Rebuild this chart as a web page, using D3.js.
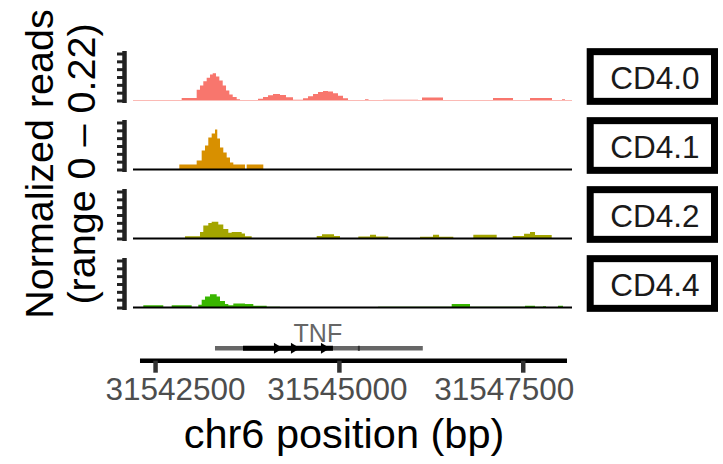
<!DOCTYPE html>
<html><head><meta charset="utf-8">
<script src="https://cdn.jsdelivr.net/npm/d3@7"></script>
<style>
html,body{margin:0;padding:0;background:#fff;}
text{font-family:"Liberation Sans",Arial,Helvetica,sans-serif;}
</style></head>
<body><svg id="chart" width="723" height="464"></svg>
<script>
// ---------- data ----------
const region = [31542200, 31548170];
const groups = ["CD4.0", "CD4.1", "CD4.2", "CD4.4"];
const groupColors = ["#F8766D", "#D89000", "#A3A500", "#39B600"];
const yMax = 0.22;
const yTicks = [0, 0.0367, 0.0733, 0.11, 0.1467, 0.1833, 0.22];
const xTicks = [31542500, 31545000, 31547500];
const xAxisExtent = [31542295, 31548102];

// coverage as [position, normalized reads] steps
const cov_CD40 = [[31542200,0.002],[31542862,0.012],[31543066,0.05],[31543111,0.07],[31543156,0.09],[31543202,0.106],[31543247,0.122],[31543284,0.128],[31543329,0.112],[31543374,0.094],[31543420,0.07],[31543465,0.047],[31543510,0.028],[31543556,0.016],[31543610,0.006],[31543655,0.002],[31543900,0.008],[31543968,0.016],[31544036,0.025],[31544104,0.031],[31544199,0.026],[31544281,0.015],[31544376,0.004],[31544512,0.01],[31544580,0.02],[31544648,0.03],[31544716,0.04],[31544784,0.045],[31544852,0.042],[31544920,0.034],[31544988,0.022],[31545056,0.01],[31545124,0.002],[31545355,0.006],[31545403,0.002],[31545600,0.004],[31546076,0.002],[31546130,0.014],[31546416,0.002],[31547096,0.012],[31547368,0.002],[31547599,0.012],[31547898,0.002],[31548034,0.006],[31548075,0.002],[31548170,0.002]];
const cov_CD41 = [[31542200,0],[31542830,0.023],[31543066,0.042],[31543134,0.089],[31543179,0.112],[31543224,0.15],[31543270,0.168],[31543315,0.187],[31543346,0.145],[31543383,0.103],[31543428,0.08],[31543474,0.056],[31543519,0.033],[31543564,0.023],[31543723,0],[31543746,0.023],[31543972,0],[31548170,0]];
const cov_CD42 = [[31542200,0],[31542907,0.011],[31543111,0.03],[31543156,0.061],[31543224,0.073],[31543270,0.078],[31543360,0.066],[31543428,0.045],[31543496,0.027],[31543542,0.031],[31543678,0.023],[31543723,0.011],[31543814,0],[31544698,0.012],[31544770,0.02],[31544934,0.012],[31545015,0],[31545264,0.009],[31545423,0.018],[31545505,0.009],[31545672,0],[31546103,0.008],[31546280,0.018],[31546362,0.008],[31546556,0],[31546828,0.018],[31547146,0],[31547364,0.012],[31547518,0.022],[31547599,0.03],[31547667,0.016],[31547894,0],[31548170,0]];
const cov_CD44 = [[31542200,0],[31542340,0.01],[31542612,0],[31542726,0.01],[31542998,0],[31543088,0.013],[31543134,0.036],[31543179,0.051],[31543247,0.062],[31543338,0.051],[31543383,0.031],[31543451,0.016],[31543496,0.01],[31543564,0.019],[31543723,0.016],[31543836,0.008],[31544018,0.003],[31544199,0],[31545532,0.003],[31546534,0.016],[31546783,0.003],[31547531,0.008],[31547667,0.003],[31547776,0.006],[31547817,0.002],[31547980,0.008],[31548048,0.002],[31548170,0]];
const coverage = [cov_CD40, cov_CD41, cov_CD42, cov_CD44];
const showBaseline = [false, true, true, true];

// gene annotation (TNF)
const geneName = "TNF";
const geneSpan = [31543315, 31546141];
const geneCoding = [31543696, 31544919];
const geneMark = [31545258, 31545285];
const geneArrows = [31544239, 31544470, 31544878];

// ---------- layout ----------
const svg = d3.select("#chart");
const x = d3.scaleLinear().domain(region).range([133, 572]);
const firstBase = 100.5, panelStep = 69, trackH = 47;
const tickLabelShift = [20, -2, -19];

groups.forEach((g, i) => {
  const base = firstBase + i * panelStep;
  const y = d3.scaleLinear().domain([0, yMax]).range([base, base - trackH]);
  const area = d3.area().curve(d3.curveStepAfter)
    .x(d => x(d[0])).y0(y(0)).y1(d => y(d[1]));
  svg.append("path").datum(coverage[i]).attr("d", area)
    .attr("fill", groupColors[i]).attr("stroke", "none");
  if (showBaseline[i]) {
    svg.append("line").attr("x1", x(region[0])).attr("x2", x(region[1]))
      .attr("y1", y(0)).attr("y2", y(0)).attr("stroke", "#000").attr("stroke-width", 1.8);
  }
  // y axis (ticks only)
  const ax = svg.append("g").attr("transform", "translate(124.5,0)")
    .call(d3.axisLeft(y).tickValues(yTicks).tickSize(7.5).tickSizeOuter(0).tickFormat(""));
  ax.select(".domain").attr("stroke", "#222").attr("stroke-width", 4.5)
    .attr("d", `M0,${y(0) + 2.5}V${y(yMax) - 2.5}`);
  ax.selectAll(".tick line").attr("stroke", "#222").attr("stroke-width", 3);
  // strip label
  const cy = base - 24;
  svg.append("rect").attr("x", 590.2).attr("y", cy - 24.85).attr("width", 124.3).attr("height", 49.7)
    .attr("fill", "#fff").attr("stroke", "#000").attr("stroke-width", 7);
  svg.append("text").attr("x", 655).attr("y", cy + 12).attr("text-anchor", "middle")
    .attr("font-size", 31.5).attr("fill", "#1a1a1a").text(g);
});

// gene track
const gy = 348.3;
svg.append("line").attr("x1", x(geneSpan[0])).attr("x2", x(geneSpan[1]))
  .attr("y1", gy).attr("y2", gy).attr("stroke", "#666").attr("stroke-width", 4.5);
svg.append("line").attr("x1", x(geneCoding[0])).attr("x2", x(geneCoding[1]))
  .attr("y1", gy).attr("y2", gy).attr("stroke", "#000").attr("stroke-width", 5);
svg.append("line").attr("x1", x(geneMark[0])).attr("x2", x(geneMark[1]))
  .attr("y1", gy).attr("y2", gy).attr("stroke", "#333").attr("stroke-width", 5);
svg.selectAll(".arrow").data(geneArrows).enter().append("path")
  .attr("d", d => `M${x(d) - 9},${gy - 5.5}L${x(d)},${gy}L${x(d) - 9},${gy + 5.5}Z`)
  .attr("fill", "#000");
svg.append("text").attr("x", x((geneSpan[0] + geneSpan[1]) / 2) - 1).attr("y", 341.7)
  .attr("text-anchor", "middle").attr("font-size", 25).attr("fill", "#666").text(geneName);

// x axis
const xa = svg.append("g").attr("transform", "translate(0,360.7)")
  .call(d3.axisBottom(x).tickValues(xTicks).tickSize(12).tickSizeOuter(0).tickPadding(5)
    .tickFormat(d3.format("d")));
xa.select(".domain").attr("stroke", "#000").attr("stroke-width", 4.5)
  .attr("d", `M${x(xAxisExtent[0])},0H${x(xAxisExtent[1])}`);
xa.selectAll(".tick line").attr("stroke", "#333").attr("stroke-width", 4.5);
xa.selectAll(".tick text").attr("font-size", 31.5).attr("fill", "#4d4d4d")
  .attr("dx", (d, i) => tickLabelShift[i])
  .attr("font-family", '"Liberation Sans",Arial,sans-serif');

// titles
svg.append("text").attr("x", 344).attr("y", 448).attr("text-anchor", "middle")
  .attr("font-size", 41.5).attr("fill", "#000").text("chr6 position (bp)");
const yt = svg.append("text").attr("transform", "translate(53,164) rotate(-90)")
  .attr("text-anchor", "middle").attr("font-size", 39.5).attr("fill", "#000");
yt.append("tspan").attr("x", 0).attr("y", 0).text("Normalized reads");
yt.append("tspan").attr("x", 0).attr("y", 42).text("(range 0 \u2013 0.22)");
</script></body></html>
